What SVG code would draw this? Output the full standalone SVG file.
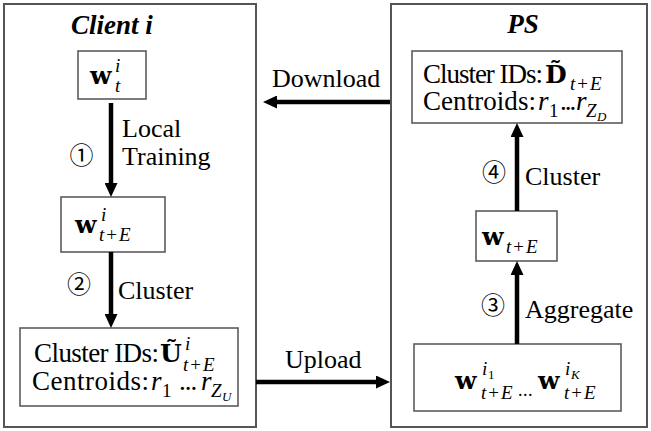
<svg xmlns="http://www.w3.org/2000/svg" width="651" height="431" viewBox="0 0 651 431">
  <style>
    .frame { fill: #fff; stroke: #555; stroke-width: 2; }
    .box { fill: #fff; stroke: #5c5c5c; stroke-width: 1.6; }
    .t, .t tspan { font-family: "Liberation Serif", Tinos, "Times New Roman", "DejaVu Serif", serif; fill: #000; }
    .lbl { font-size: 26px; }
    .txt { font-size: 27px; }
    .title { font-size: 27px; font-weight: bold; font-style: italic; text-anchor: middle; }
    .t .mb { font-family: "DejaVu Serif", "Liberation Serif", serif; font-weight: bold; font-size: 25px; }
    .mi { font-style: italic; font-size: 27px; }
    .sub { font-style: italic; font-size: 19px; }
    .ss { font-style: italic; font-size: 13px; }
    .up { font-style: normal; }
    .num { font-family: "Noto Sans CJK JP", "Noto Sans CJK SC", sans-serif; font-size: 24px; text-anchor: middle; fill: #000; }
    .arrow { stroke: #000; stroke-width: 4.5; fill: none; marker-end: url(#ah); }
  </style>
  <defs>
    <marker id="ah" markerUnits="userSpaceOnUse" markerWidth="16" markerHeight="13" refX="4" refY="6.5" orient="auto">
      <path d="M0,0 L14,6.5 L0,13 Z" fill="#000"/>
    </marker>
  </defs>

  <!-- outer frames -->
  <g id="client-frame">
    <rect class="frame" x="4" y="4" width="252" height="423"/>
    <text class="t title" x="112" y="34">Client i</text>
  </g>
  <g id="ps-frame">
    <rect class="frame" x="391" y="4" width="256" height="423"/>
    <text class="t title" x="523" y="33">PS</text>
  </g>

  <!-- client nodes -->
  <g id="client-w-t">
    <rect class="box" x="78" y="51" width="68" height="48"/>
    <text class="t"><tspan class="mb" x="90" y="84">w</tspan><tspan class="sub" x="115" y="72">i</tspan><tspan class="sub" x="115" y="92">t</tspan></text>
  </g>
  <g id="client-w-tE">
    <rect class="box" x="61" y="197" width="104" height="55"/>
    <text class="t"><tspan class="mb" x="75" y="233">w</tspan><tspan class="sub" x="101" y="221">i</tspan><tspan class="sub" x="99" y="241">t<tspan class="up" dx="2">+</tspan><tspan dx="2">E</tspan></tspan></text>
  </g>
  <g id="client-upload-data">
    <rect class="box" x="20" y="328" width="218" height="78"/>
    <text class="t txt" x="34" y="362" textLength="125" lengthAdjust="spacing">Cluster IDs:</text>
    <text class="t"><tspan class="mb" x="160" y="362">Ũ</tspan><tspan class="sub" x="185" y="350">i</tspan><tspan class="sub" x="183" y="371">t<tspan class="up" dx="2">+</tspan><tspan dx="2">E</tspan></tspan></text>
    <text class="t txt" x="32" y="390" textLength="117" lengthAdjust="spacing">Centroids:</text>
    <text class="t"><tspan class="mi" x="151" y="390">r</tspan><tspan class="sub up" x="162" y="397">1</tspan><tspan class="txt" x="179" y="390" letter-spacing="-1">...</tspan><tspan class="mi" x="201" y="390">r</tspan><tspan class="sub" x="211" y="397">Z</tspan><tspan class="ss" x="222" y="401">U</tspan></text>
  </g>

  <!-- server nodes -->
  <g id="ps-download-data">
    <rect class="box" x="412" y="51" width="210" height="72"/>
    <text class="t txt" x="423" y="83" textLength="120" lengthAdjust="spacing">Cluster IDs:</text>
    <text class="t"><tspan class="mb" x="545" y="83">D̃</tspan><tspan class="sub" x="570" y="90">t<tspan class="up" dx="2">+</tspan><tspan dx="2">E</tspan></tspan></text>
    <text class="t txt" x="423" y="110" textLength="113" lengthAdjust="spacing">Centroids:</text>
    <text class="t"><tspan class="mi" x="538" y="110">r</tspan><tspan class="sub up" x="549" y="117">1</tspan><tspan class="txt" x="560" y="110" letter-spacing="-2">...</tspan><tspan class="mi" x="576" y="110">r</tspan><tspan class="sub" x="586" y="117">Z</tspan><tspan class="ss" x="597" y="121">D</tspan></text>
  </g>
  <g id="ps-w-tE">
    <rect class="box" x="476" y="211" width="81" height="50"/>
    <text class="t"><tspan class="mb" x="482" y="245">w</tspan><tspan class="sub" x="506" y="253">t<tspan class="up" dx="2">+</tspan><tspan dx="2">E</tspan></tspan></text>
  </g>
  <g id="ps-client-models">
    <rect class="box" x="414" y="344" width="207" height="67"/>
    <text class="t"><tspan class="mb" x="455" y="389">w</tspan><tspan class="sub" x="482" y="375">i</tspan><tspan class="ss up" x="488" y="379">1</tspan><tspan class="sub" x="481" y="399">t<tspan class="up" dx="2">+</tspan><tspan dx="2">E</tspan></tspan></text>
    <text class="t" x="518" y="396" font-size="18" letter-spacing="0.5">...</text>
    <text class="t"><tspan class="mb" x="538" y="389">w</tspan><tspan class="sub" x="565" y="375">i</tspan><tspan class="ss" x="571" y="379">K</tspan><tspan class="sub" x="564" y="399">t<tspan class="up" dx="2">+</tspan><tspan dx="2">E</tspan></tspan></text>
  </g>

  <!-- connectors -->
  <g id="connectors">
    <line class="arrow" x1="111" y1="103" x2="111" y2="187"/>
    <line class="arrow" x1="111" y1="252" x2="111" y2="318"/>
    <line class="arrow" x1="517" y1="344" x2="517" y2="271"/>
    <line class="arrow" x1="517" y1="211" x2="517" y2="133"/>
    <line class="arrow" x1="390" y1="102" x2="273" y2="102"/>
    <line class="arrow" x1="256" y1="382" x2="380" y2="382"/>
  </g>

  <!-- connector labels -->
  <g id="labels">
    <text class="num" x="81.5" y="164">①</text>
    <text class="t lbl" x="122" y="137">Local</text>
    <text class="t lbl" x="122" y="165">Training</text>
    <text class="num" x="79" y="293">②</text>
    <text class="t lbl" x="118" y="299">Cluster</text>
    <text class="num" x="493" y="314">③</text>
    <text class="t lbl" x="525" y="318">Aggregate</text>
    <text class="num" x="494" y="181">④</text>
    <text class="t lbl" x="525" y="185">Cluster</text>
    <text class="t lbl" x="272" y="87">Download</text>
    <text class="t lbl" x="285" y="368">Upload</text>
  </g>
</svg>
